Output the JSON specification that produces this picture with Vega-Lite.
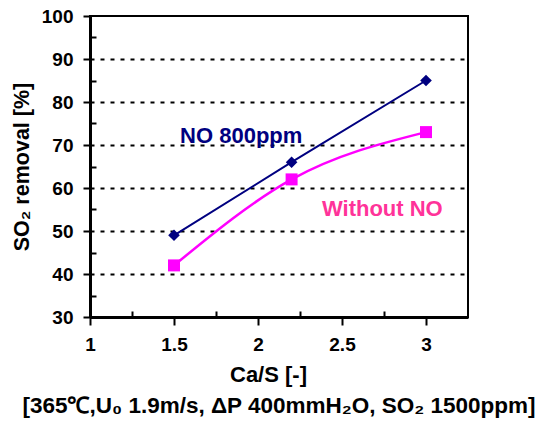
{
  "$schema": "https://vega.github.io/schema/vega-lite/v6.json",
  "width": 378,
  "height": 301,
  "autosize": "none",
  "padding": {"left": 90, "top": 16, "right": 77, "bottom": 106},
  "background": "white",
  "config": {
    "view": {"stroke": "black", "strokeWidth": 2},
    "font": "Liberation Sans"
  },
  "title": {
    "text": "[365℃,U₀ 1.9m/s, ΔP 400mmH₂O, SO₂ 1500ppm]",
    "orient": "bottom",
    "anchor": "middle",
    "font": "Liberation Sans",
    "fontSize": 22.5,
    "fontWeight": "bold",
    "color": "black",
    "offset": 10
  },
  "datasets": {
    "series": [
      {"series": "NO 800ppm", "cas": 1.5, "removal": 49},
      {"series": "NO 800ppm", "cas": 2.2, "removal": 66},
      {"series": "NO 800ppm", "cas": 3.0, "removal": 85},
      {"series": "Without NO", "cas": 1.5, "removal": 42},
      {"series": "Without NO", "cas": 2.2, "removal": 62},
      {"series": "Without NO", "cas": 3.0, "removal": 73}
    ],
    "labels": [
      {"text": "NO 800ppm", "cas": 1.9, "removal": 72, "series": "NO 800ppm"},
      {"text": "Without NO", "cas": 2.74, "removal": 55.2, "series": "Without NO"}
    ]
  },
  "encoding": {
    "x": {
      "field": "cas",
      "type": "quantitative",
      "scale": {"domain": [1, 3.25], "nice": false, "zero": false},
      "axis": {
        "title": "Ca/S [-]",
        "titleFontSize": 22,
        "titleFontWeight": "bold",
        "titleColor": "black",
        "titlePadding": 10,
        "titleX": 178,
        "values": [1, 1.25, 1.5, 1.75, 2, 2.25, 2.5, 2.75, 3],
        "labelExpr": "(datum.value*2)%1==0 ? toString(datum.value) : ''",
        "labelFontSize": 19,
        "labelFontWeight": "bold",
        "labelColor": "black",
        "labelPadding": 10,
        "labelFlush": false,
        "domainColor": "black",
        "domainWidth": 3,
        "tickColor": "black",
        "tickWidth": 2,
        "tickSize": {"condition": {"test": "(datum.value*2)%1==0", "value": 8}, "value": -6},
        "grid": false
      }
    },
    "y": {
      "field": "removal",
      "type": "quantitative",
      "scale": {"domain": [30, 100], "nice": false, "zero": false},
      "axis": {
        "title": "SO₂ removal [%]",
        "titleFontSize": 21.5,
        "titleFontWeight": "bold",
        "titleColor": "black",
        "titlePadding": 8,
        "values": [30, 35, 40, 45, 50, 55, 60, 65, 70, 75, 80, 85, 90, 95, 100],
        "labelExpr": "datum.value%10==0 ? toString(datum.value) : ''",
        "labelFontSize": 19,
        "labelFontWeight": "bold",
        "labelColor": "black",
        "labelPadding": 10,
        "labelFlush": false,
        "domainColor": "black",
        "domainWidth": 3,
        "tickColor": "black",
        "tickWidth": 2,
        "tickSize": {"condition": {"test": "datum.value%10==0", "value": 7}, "value": -6},
        "grid": true,
        "gridColor": "black",
        "gridWidth": 2,
        "gridDash": [4, 6],
        "gridOpacity": {"condition": {"test": "datum.value%10==0 && datum.value>30 && datum.value<100", "value": 1}, "value": 0}
      }
    }
  },
  "layer": [
    {
      "data": {"name": "series"},
      "transform": [{"filter": "datum.series == 'NO 800ppm'"}],
      "mark": {"type": "line", "color": "#000080", "strokeWidth": 2},
      "encoding": {}
    },
    {
      "data": {"name": "series"},
      "transform": [{"filter": "datum.series == 'Without NO'"}],
      "mark": {"type": "line", "color": "#FF00FF", "strokeWidth": 2.5, "interpolate": "monotone"},
      "encoding": {}
    },
    {
      "data": {"name": "series"},
      "transform": [{"filter": "datum.series == 'NO 800ppm'"}],
      "mark": {"type": "point", "shape": "diamond", "filled": true, "color": "#000080", "size": 135, "opacity": 1},
      "encoding": {}
    },
    {
      "data": {"name": "series"},
      "transform": [{"filter": "datum.series == 'Without NO'"}],
      "mark": {"type": "point", "shape": "square", "filled": true, "color": "#FF00FF", "size": 144, "opacity": 1},
      "encoding": {}
    },
    {
      "data": {"name": "labels"},
      "mark": {"type": "text", "font": "Liberation Sans", "fontSize": 22, "fontWeight": "bold", "align": "center", "baseline": "middle"},
      "encoding": {
        "text": {"field": "text"},
        "color": {"field": "series", "type": "nominal", "scale": {"domain": ["NO 800ppm", "Without NO"], "range": ["#000080", "#FF3399"]}, "legend": null}
      }
    }
  ]
}
